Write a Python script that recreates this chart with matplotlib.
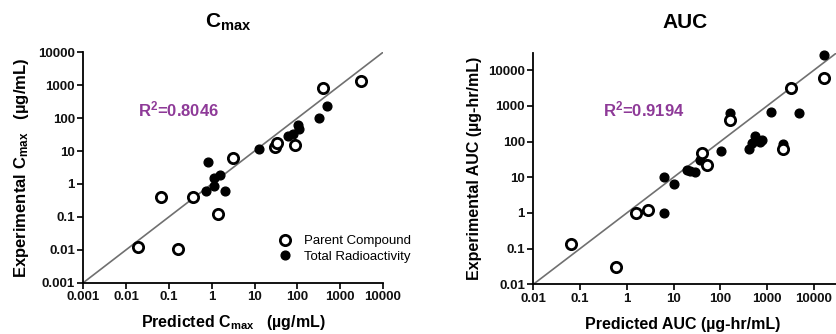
import matplotlib
matplotlib.use("Agg")
import matplotlib.pyplot as plt
from matplotlib.ticker import FixedLocator, NullLocator

plt.rcParams['font.family'] = ['Liberation Sans', 'DejaVu Sans']
plt.rcParams['mathtext.fontset'] = 'custom'
plt.rcParams['mathtext.rm'] = 'Liberation Sans'
plt.rcParams['mathtext.bf'] = 'Liberation Sans:bold'
plt.rcParams['mathtext.it'] = 'Liberation Sans:italic'

# ---- Cmax panel data (predicted, experimental) ----
cmax_parent_pred = [0.0187, 0.065, 0.16, 0.37, 1.4, 3.1, 30, 33, 90, 405, 3050]
cmax_parent_exp = [0.0125, 0.41, 0.0104, 0.40, 0.125, 6.1, 13.2, 17.5, 15.5, 805, 1370]
cmax_total_pred = [0.81, 0.72, 1.12, 1.15, 1.55, 2.05, 13, 61, 78, 104, 110, 313, 485]
cmax_total_exp = [4.5, 0.6, 1.55, 0.85, 1.9, 0.62, 11.6, 28, 34, 64, 46, 104, 240]
cmax_ticks = [0.001, 0.01, 0.1, 1, 10, 100, 1000, 10000]
cmax_ticklabels = ['0.001', '0.01', '0.1', '1', '10', '100', '1000', '10000']
cmax_lims = [0.001, 10000]
cmax_r2 = 'R$^{\\mathbf{2}}$=0.8046'

# ---- AUC panel data ----
auc_parent_pred = [0.065, 0.58, 1.58, 2.9, 40, 52, 160, 2200, 3200, 16400]
auc_parent_exp = [0.136, 0.030, 1.03, 1.2, 47, 22, 400, 61, 3200, 6000]
auc_total_pred = [6.2, 6.4, 10.4, 19.5, 23, 29, 37, 104, 160, 420, 470, 560, 700, 780,
                  1200, 2200, 4750, 16400]
auc_total_exp = [10.5, 0.97, 6.6, 15.7, 15, 14, 30, 54, 630, 64, 90, 145, 100, 112,
                 680, 84, 640, 27700]
auc_ticks = [0.01, 0.1, 1, 10, 100, 1000, 10000]
auc_ticklabels = ['0.01', '0.1', '1', '10', '100', '1000', '10000']
auc_lims = [0.01, 30000]
auc_r2 = 'R$^{\\mathbf{2}}$=0.9194'

purple = '#8e3a98'
W, H = 836, 334
fig = plt.figure(figsize=(W / 100, H / 100), dpi=100)


def setup(ax, lims, ticks, labels):
    ax.set_xscale('log')
    ax.set_yscale('log')
    ax.set_xlim(lims)
    ax.set_ylim(lims)
    for s in ['top', 'right']:
        ax.spines[s].set_visible(False)
    for s in ['left', 'bottom']:
        ax.spines[s].set_linewidth(1.3)
    for axis in [ax.xaxis, ax.yaxis]:
        axis.set_major_locator(FixedLocator(ticks))
        axis.set_minor_locator(NullLocator())
    ax.set_xticklabels(labels, fontsize=9.5, fontweight='bold')
    ax.set_yticklabels(labels, fontsize=9.5, fontweight='bold')
    ax.tick_params(direction='out', length=4, width=1.3, pad=2, colors='#111111')
    ax.plot(lims, lims, color='#707070', lw=1.2, zorder=1)


def draw(ax, tp, te, pp, pe):
    ax.plot(tp, te, 'o', ms=6.3, color='black', zorder=3, label='Total Radioactivity',
            clip_on=False)
    ax.plot(pp, pe, 'o', ms=7.4, mfc='white', mec='black', mew=2.0, zorder=4,
            label='Parent Compound', clip_on=False)


# left panel
ax1 = fig.add_axes([83.3 / W, 1 - 282.7 / H, 299.7 / W, 230.4 / H])
setup(ax1, cmax_lims, cmax_ticks, cmax_ticklabels)
draw(ax1, cmax_total_pred, cmax_total_exp, cmax_parent_pred, cmax_parent_exp)
ax1.text(0.183, 0.75, cmax_r2, transform=ax1.transAxes, color=purple,
         fontsize=12, fontweight='bold', va='center', ha='left')
ax1.set_xlabel('Predicted C$_{\\mathbf{max}}$   (\u00b5g/mL)', fontsize=11.5,
               fontweight='bold', va='center')
ax1.set_ylabel('Experimental C$_{\\mathbf{max}}$   (\u00b5g/mL)', fontsize=12,
               fontweight='bold', va='center')
ax1.xaxis.set_label_coords((233 - 83.3) / 299.7, (282.7 - 323) / 230.4)
ax1.yaxis.set_label_coords((22 - 83.3) / 299.7, 0.5)
h, l = ax1.get_legend_handles_labels()
ax1.legend(h[::-1], l[::-1], loc='center left', frameon=False, fontsize=9.5,
           bbox_to_anchor=(270 / W, 1 - 249 / H), bbox_transform=fig.transFigure,
           handlelength=1.2, handletextpad=0.9, labelspacing=0.25, borderpad=0)

# right panel
ax2 = fig.add_axes([533.3 / W, 1 - 284.3 / H, 302.7 / W, 231 / H])
setup(ax2, auc_lims, auc_ticks, auc_ticklabels)
draw(ax2, auc_total_pred, auc_total_exp, auc_parent_pred, auc_parent_exp)
ax2.text(0.229, 0.755, auc_r2, transform=ax2.transAxes, color=purple,
         fontsize=12, fontweight='bold', va='center', ha='left')
ax2.set_xlabel('Predicted AUC (\u00b5g-hr/mL)', fontsize=11.5, fontweight='bold',
               va='center')
ax2.set_ylabel('Experimental AUC (\u00b5g-hr/mL)', fontsize=11.5, fontweight='bold',
               va='center')
ax2.xaxis.set_label_coords((683 - 533.3) / 302.7, (284.3 - 325) / 231)
ax2.yaxis.set_label_coords((474 - 533.3) / 302.7, 0.5)

# panel titles
fig.text(228 / W, 1 - 22 / H, '$\\mathbf{C}_{\\mathbf{max}}$', fontsize=15,
         ha='center', va='center')
fig.text(685 / W, 1 - 22 / H, 'AUC', fontsize=15, fontweight='bold',
         ha='center', va='center')

fig.savefig('out.png', dpi=100)
